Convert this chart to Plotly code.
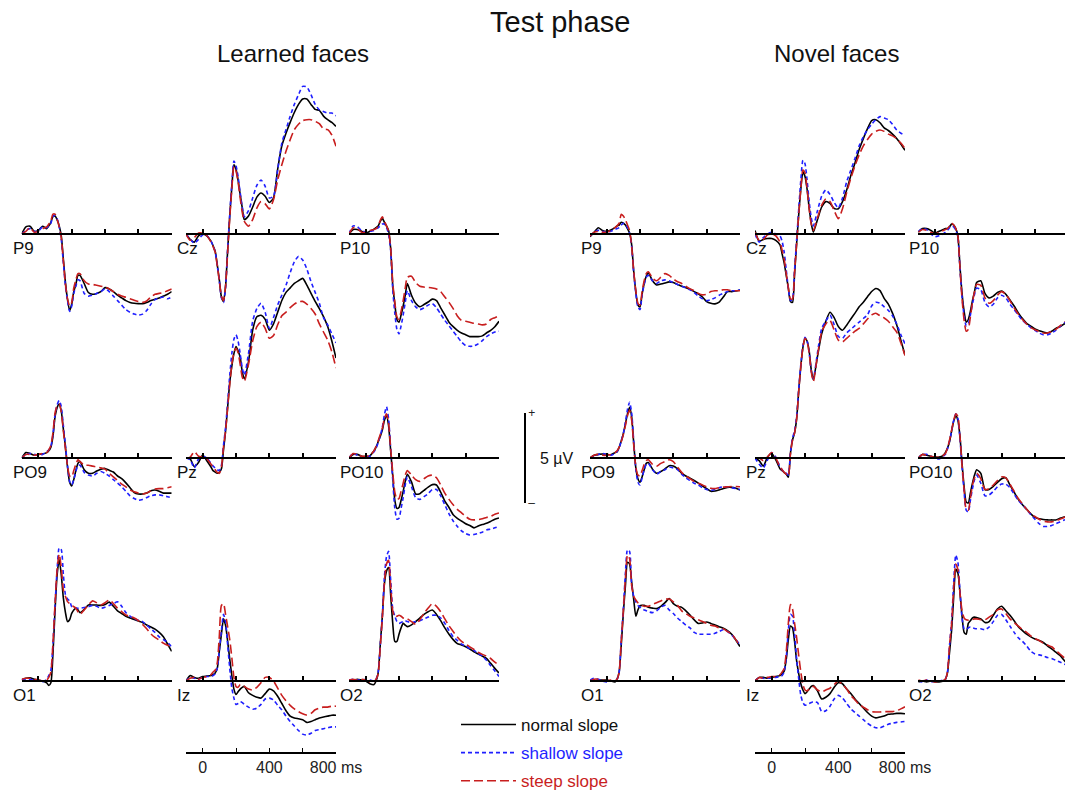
import plotly.graph_objects as go

FIG_W, FIG_H = 1065, 800
FONT = "Liberation Sans, Arial, sans-serif"

# Sample times (ms); denser around the early components
TIME_MS = [-100, -75, -50, -25, 0, 25,
           50, 62.5, 75, 87.5, 100, 112.5, 125, 137.5, 150, 162.5, 175, 187.5,
           200, 212.5, 225, 237.5, 250,
           275, 300, 325, 350, 375, 400, 425, 450, 475, 500, 525, 550, 575,
           600, 625, 650, 675, 700, 725, 750, 775, 800]
PANEL_TICKS_MS = [0, 200, 400, 600, 800]
TIMEBAR_TICKS_MS = [0, 200, 400, 600, 800]
TIMEBAR_LABELS = ["0", "", "400", "", "800 ms"]

GROUPS = ["Learned faces", "Novel faces"]
CONDITIONS = ["normal slope", "shallow slope", "steep slope"]
ELECTRODE_GRID = [["P9", "Cz", "P10"],
                  ["PO9", "Pz", "PO10"],
                  ["O1", "Iz", "O2"]]

# ---------------- grand-average ERPs (µV), learned faces ----------------
learned_P9_normal = [0, 0.4, 0.43, 0.15, 0.2, 0.43, 0.3, 0.45, 0.65, 0.98, 1.0, 0.8, 0.45, -0.1, -1.4, -2.7, -3.65, -4.25, -3.9, -3.2, -2.8, -2.3, -2.3, -2.75, -3.25, -3.35, -3.3, -3.2, -2.98, -3.05, -3.2, -3.4, -3.55, -3.7, -3.8, -3.85, -3.87, -3.87, -3.8, -3.7, -3.62, -3.55, -3.45, -3.35, -3.2]
learned_P9_shallow = [0, 0.2, 0.3, 0.15, 0.15, 0.4, 0.35, 0.45, 0.6, 0.95, 1.05, 0.85, 0.4, -0.3, -1.6, -2.9, -3.7, -4.3, -4.0, -3.3, -2.9, -2.55, -2.6, -3.3, -3.45, -3.4, -3.3, -3.2, -3.05, -3.2, -3.45, -3.7, -3.95, -4.2, -4.35, -4.45, -4.5, -4.45, -4.25, -3.9, -3.65, -3.55, -3.5, -3.6, -3.5]
learned_P9_steep = [0, 0.15, 0.35, 0.1, 0.15, 0.3, 0.4, 0.55, 0.75, 1.1, 1.1, 0.8, 0.4, -0.2, -1.5, -2.8, -3.6, -4.0, -3.8, -3.0, -2.55, -2.2, -2.2, -2.6, -2.78, -2.8, -2.85, -2.9, -2.95, -3.05, -3.2, -3.35, -3.45, -3.52, -3.6, -3.68, -3.75, -3.8, -3.72, -3.5, -3.35, -3.3, -3.25, -3.15, -3.05]

learned_Cz_normal = [0, -0.3, -0.45, -0.1, 0.0, -0.1, -0.4, -0.65, -0.95, -1.7, -2.55, -3.5, -3.75, -2.9, -0.9, 1.0, 2.6, 3.85, 3.6, 3.0, 2.2, 1.45, 0.8, 1.0, 1.5, 2.05, 2.28, 2.1, 1.75, 2.0, 3.6, 4.9, 5.6, 6.2, 6.75, 7.2, 7.5, 7.5, 7.2, 6.92, 6.87, 6.55, 6.35, 6.2, 5.98]
learned_Cz_shallow = [0, -0.3, -0.5, -0.3, -0.05, -0.1, -0.4, -0.65, -1.0, -1.75, -2.6, -3.55, -3.8, -2.95, -0.8, 1.1, 2.8, 4.05, 3.8, 3.2, 2.3, 1.5, 0.95, 1.3, 2.0, 2.7, 3.0, 2.65, 2.0, 2.1, 3.57, 5.05, 5.8, 6.54, 7.2, 7.74, 8.2, 8.17, 7.74, 7.2, 6.9, 6.8, 6.72, 6.72, 6.57]
learned_Cz_steep = [0, -0.35, -0.2, 0.05, 0.05, -0.1, -0.45, -0.7, -1.0, -1.75, -2.6, -3.45, -3.7, -2.9, -1.0, 0.9, 2.5, 3.75, 3.5, 2.9, 2.0, 1.2, 0.7, 0.43, 0.8, 1.44, 1.8, 1.68, 1.39, 1.9, 3.0, 3.85, 4.6, 5.24, 5.8, 6.1, 6.3, 6.35, 6.35, 6.26, 6.13, 5.83, 5.8, 5.5, 4.87]

learned_P10_normal = [0, 0.25, 0.25, 0.15, 0.05, 0.15, 0.27, 0.35, 0.45, 0.7, 0.87, 0.65, 0.45, 0.2, -0.8, -2.85, -3.9, -4.75, -4.9, -4.5, -4.0, -3.4, -2.75, -3.4, -3.85, -4.04, -3.92, -3.78, -3.62, -3.7, -4.1, -4.5, -4.9, -5.15, -5.35, -5.5, -5.6, -5.7, -5.7, -5.7, -5.66, -5.5, -5.35, -5.15, -4.85]
learned_P10_shallow = [0, 0.45, 0.4, 0.2, 0.1, 0.15, 0.2, 0.3, 0.35, 0.45, 0.55, 0.55, 0.35, 0.0, -0.9, -3.1, -4.4, -5.3, -5.55, -5.1, -4.5, -3.8, -3.15, -3.7, -4.05, -4.2, -4.1, -3.95, -3.87, -4.1, -4.45, -4.8, -5.1, -5.4, -5.7, -6.0, -6.2, -6.24, -6.22, -6.1, -5.92, -5.7, -5.55, -5.45, -5.4]
learned_P10_steep = [0, 0.35, 0.3, 0.1, 0.1, 0.2, 0.25, 0.3, 0.45, 0.75, 0.95, 0.7, 0.45, 0.15, -0.8, -2.7, -3.8, -4.6, -4.75, -4.3, -3.7, -3.0, -2.4, -2.35, -2.7, -2.9, -2.95, -2.97, -3.0, -3.05, -3.2, -3.5, -3.8, -4.15, -4.55, -4.8, -4.85, -4.9, -4.96, -5.0, -5.05, -5.0, -4.75, -4.65, -4.55]

learned_PO9_normal = [0, 0.3, 0.25, 0.15, 0.2, 0.22, 0.3, 0.4, 0.6, 1.2, 2.28, 2.8, 3.0, 2.6, 1.6, 0.6, -0.5, -1.35, -1.55, -1.2, -0.7, -0.3, -0.2, -0.65, -0.85, -0.85, -0.72, -0.62, -0.58, -0.68, -0.78, -1.0, -1.15, -1.38, -1.65, -1.92, -2.0, -2.0, -1.95, -1.82, -1.78, -1.85, -1.95, -1.95, -1.95]
learned_PO9_shallow = [0, 0.2, 0.25, 0.2, 0.15, 0.2, 0.35, 0.45, 0.65, 1.3, 2.4, 2.95, 3.2, 2.85, 1.8, 0.7, -0.45, -1.3, -1.5, -1.2, -0.75, -0.4, -0.4, -0.8, -0.95, -1.0, -0.85, -0.75, -0.85, -1.0, -1.2, -1.4, -1.6, -1.85, -2.1, -2.25, -2.35, -2.3, -2.2, -2.1, -2.05, -2.05, -2.1, -2.15, -2.2]
learned_PO9_steep = [0, 0.2, 0.2, 0.15, 0.2, 0.25, 0.3, 0.45, 0.7, 1.4, 2.5, 2.9, 3.0, 2.55, 1.5, 0.5, -0.45, -1.0, -1.05, -0.7, -0.35, -0.1, -0.2, -0.4, -0.4, -0.45, -0.5, -0.55, -0.62, -0.85, -1.05, -1.25, -1.45, -1.6, -1.78, -1.88, -1.95, -2.0, -1.95, -1.82, -1.72, -1.7, -1.7, -1.65, -1.6]

learned_Pz_normal = [0, -0.05, -0.48, -0.25, 0.17, -0.15, -0.5, -0.7, -0.78, -0.85, -0.8, -0.6, 0.45, 1.5, 2.85, 4.2, 5.1, 5.8, 6.19, 5.95, 5.6, 4.8, 4.4, 5.35, 7.1, 7.85, 7.93, 7.7, 7.1, 7.45, 8.1, 8.75, 9.2, 9.45, 9.7, 9.85, 9.98, 9.6, 9.15, 8.7, 8.3, 7.85, 7.3, 6.5, 5.55]
learned_Pz_shallow = [0, -0.1, -0.55, -0.05, 0.1, 0.0, -0.3, -0.45, -0.55, -0.65, -0.7, -0.4, 0.7, 1.7, 3.1, 4.6, 5.8, 6.6, 6.85, 6.5, 5.8, 5.0, 4.6, 5.8, 7.6, 8.3, 8.6, 8.1, 7.2, 7.8, 8.5, 9.05, 9.6, 10.3, 10.9, 11.2, 11.0, 10.5, 9.8, 9.2, 8.6, 7.8, 7.4, 6.9, 6.4]
learned_Pz_steep = [0, 0.05, 0.35, 0.1, 0.05, -0.05, -0.35, -0.5, -0.65, -0.8, -0.85, -0.5, 0.6, 1.5, 2.8, 4.1, 5.2, 5.85, 6.1, 5.85, 5.2, 4.5, 4.25, 5.2, 6.5, 7.3, 7.55, 7.2, 6.65, 6.8, 7.4, 7.9, 8.1, 8.35, 8.55, 8.68, 8.7, 8.55, 8.3, 8.0, 7.45, 7.0, 6.55, 5.9, 5.0]

learned_PO10_normal = [0, 0.2, 0.2, 0.1, 0.08, 0.12, 0.4, 0.6, 0.9, 1.2, 1.55, 2.1, 2.35, 1.8, 0.4, -1.0, -2.35, -2.8, -2.75, -2.35, -1.85, -1.3, -0.9, -1.33, -2.0, -1.98, -1.8, -1.62, -1.48, -1.5, -1.9, -2.4, -2.75, -3.15, -3.35, -3.5, -3.65, -3.75, -3.88, -3.78, -3.7, -3.63, -3.52, -3.4, -3.33]
learned_PO10_shallow = [0, 0.25, 0.15, 0.05, 0.05, 0.1, 0.35, 0.55, 0.85, 1.25, 1.7, 2.4, 2.85, 2.2, 0.5, -1.2, -2.8, -3.4, -3.35, -2.8, -2.2, -1.5, -1.05, -1.6, -2.2, -2.3, -2.15, -1.98, -1.75, -1.75, -2.1, -2.6, -3.1, -3.5, -3.8, -4.05, -4.2, -4.28, -4.25, -4.19, -4.12, -4.0, -3.95, -3.88, -3.81]
learned_PO10_steep = [0, 0.25, 0.2, 0.1, 0.1, 0.15, 0.4, 0.65, 0.95, 1.3, 1.65, 2.2, 2.45, 1.95, 0.5, -0.8, -1.9, -2.3, -2.25, -1.85, -1.4, -0.95, -0.7, -0.95, -1.2, -1.3, -1.15, -1.0, -0.95, -1.1, -1.5, -1.95, -2.3, -2.6, -2.85, -3.05, -3.25, -3.4, -3.44, -3.42, -3.38, -3.3, -3.25, -3.12, -3.05]

learned_O1_normal = [0.05, 0.15, 0.18, 0.1, 0.05, 0.0, -0.1, -0.25, -0.1, 1.5, 3.9, 5.9, 6.75, 5.9, 4.6, 3.8, 3.3, 3.4, 3.76, 3.95, 4.05, 3.95, 3.8, 3.98, 4.22, 4.22, 4.22, 4.2, 4.25, 4.38, 4.15, 3.9, 3.75, 3.6, 3.5, 3.42, 3.33, 3.25, 3.11, 3.0, 2.88, 2.7, 2.46, 2.05, 1.65]
learned_O1_shallow = [0.1, 0.1, 0.1, 0.05, 0.0, -0.05, 0.1, 0.3, 0.6, 2.0, 4.2, 6.2, 7.4, 7.3, 5.9, 4.8, 4.55, 4.45, 4.13, 4.1, 4.05, 4.04, 4.04, 4.08, 4.13, 4.2, 4.15, 4.04, 4.1, 4.2, 4.3, 4.4, 4.15, 3.8, 3.6, 3.45, 3.38, 3.3, 3.1, 2.9, 2.7, 2.45, 2.3, 2.15, 1.9]
learned_O1_steep = [0.1, 0.15, 0.15, 0.1, 0.05, 0.0, 0.05, 0.2, 0.5, 2.1, 4.3, 6.2, 7.05, 6.3, 5.06, 4.7, 4.41, 4.3, 4.22, 4.13, 4.04, 3.85, 3.7, 3.95, 4.22, 4.45, 4.35, 4.22, 4.35, 4.5, 4.3, 4.04, 3.85, 3.67, 3.58, 3.5, 3.35, 3.15, 2.9, 2.62, 2.42, 2.28, 2.1, 1.98, 1.9]

learned_Iz_normal = [0, 0.3, 0.2, 0.15, 0.25, 0.27, 0.3, 0.35, 0.45, 0.7, 1.67, 2.6, 3.45, 3.1, 2.2, 1.2, 0.3, -0.45, -0.75, -0.6, -0.45, -0.35, -0.3, -0.65, -0.8, -0.9, -0.95, -0.7, -0.45, -0.55, -0.85, -1.25, -1.65, -1.95, -2.05, -2.1, -2.15, -2.3, -2.25, -2.15, -2.05, -2.0, -1.95, -1.9, -1.9]
learned_Iz_shallow = [0, 0.2, 0.15, 0.1, 0.2, 0.25, 0.25, 0.3, 0.4, 0.7, 1.7, 2.8, 3.7, 3.3, 2.0, 0.7, -0.4, -0.95, -1.3, -1.25, -1.15, -1.2, -1.3, -1.45, -1.57, -1.5, -1.3, -1.0, -0.95, -1.05, -1.35, -1.6, -1.95, -2.25, -2.5, -2.75, -2.95, -3.0, -2.9, -2.75, -2.7, -2.65, -2.6, -2.55, -2.55]
learned_Iz_steep = [0, 0.15, 0.2, 0.1, 0.2, 0.25, 0.35, 0.5, 0.6, 1.0, 2.5, 4.2, 4.3, 3.7, 3.0, 2.3, 1.3, 0.2, -0.3, -0.35, -0.2, -0.2, -0.3, -0.45, -0.5, -0.35, -0.1, 0.2, 0.2, 0.0, -0.4, -0.8, -1.1, -1.35, -1.55, -1.7, -1.82, -1.89, -1.8, -1.6, -1.5, -1.45, -1.45, -1.4, -1.4]

learned_O2_normal = [0.05, 0.05, 0.1, 0.05, 0.0, -0.15, -0.2, 0.0, 0.45, 2.0, 3.6, 5.4, 6.1, 6.3, 4.8, 3.2, 2.2, 2.2, 2.6, 2.95, 3.2, 3.1, 3.02, 3.12, 3.3, 3.5, 3.7, 3.85, 3.94, 3.7, 3.35, 2.95, 2.6, 2.3, 2.08, 2.0, 1.9, 1.78, 1.62, 1.5, 1.38, 1.26, 0.98, 0.7, 0.45]
learned_O2_shallow = [0.05, 0.1, 0.05, 0.05, 0.1, 0.05, 0.0, 0.1, 0.5, 2.0, 3.6, 5.8, 6.9, 7.2, 5.6, 4.0, 3.6, 3.3, 3.2, 3.25, 3.3, 3.35, 3.3, 3.25, 3.3, 3.35, 3.45, 3.55, 3.65, 3.65, 3.5, 3.2, 2.8, 2.46, 2.25, 2.05, 1.95, 1.8, 1.7, 1.52, 1.38, 1.15, 0.85, 0.55, 0.25]
learned_O2_steep = [0.05, 0.1, 0.05, 0.1, 0.05, -0.05, -0.05, 0.1, 0.4, 1.9, 3.5, 5.5, 6.5, 6.7, 5.3, 3.9, 3.55, 3.6, 3.65, 3.6, 3.5, 3.45, 3.45, 3.3, 3.15, 3.4, 3.75, 4.05, 4.3, 4.15, 3.85, 3.45, 3.07, 2.75, 2.45, 2.2, 2.05, 1.9, 1.75, 1.6, 1.48, 1.38, 1.25, 1.05, 0.89]

# ---------------- grand-average ERPs (µV), novel faces ----------------
novel_P9_normal = [-0.15, 0.1, 0.35, 0.2, 0.15, 0.22, 0.35, 0.45, 0.5, 0.65, 0.6, 0.5, 0.3, 0.05, -0.6, -2.1, -3.2, -3.95, -4.05, -3.35, -2.75, -2.35, -2.15, -2.6, -2.83, -2.78, -2.72, -2.66, -2.7, -2.8, -2.9, -2.98, -3.07, -3.2, -3.33, -3.5, -3.76, -3.85, -3.88, -3.78, -3.5, -3.2, -3.2, -3.17, -3.11]
novel_P9_shallow = [-0.1, 0.1, 0.2, 0.15, 0.1, 0.15, 0.25, 0.3, 0.35, 0.5, 0.6, 0.55, 0.35, 0.05, -0.7, -2.2, -3.3, -4.05, -4.2, -3.4, -2.8, -2.4, -2.3, -2.6, -2.75, -2.6, -2.55, -2.6, -2.7, -2.8, -2.9, -3.0, -3.1, -3.25, -3.45, -3.6, -3.7, -3.65, -3.55, -3.4, -3.3, -3.2, -3.15, -3.15, -3.1]
novel_P9_steep = [-0.1, 0.1, 0.15, 0.1, 0.1, 0.2, 0.35, 0.45, 0.6, 1.1, 1.0, 0.8, 0.5, 0.2, -0.7, -2.1, -3.15, -3.85, -3.95, -3.2, -2.6, -2.2, -2.1, -2.45, -2.6, -2.4, -2.2, -2.3, -2.5, -2.65, -2.75, -2.9, -3.05, -3.15, -3.3, -3.38, -3.35, -3.2, -3.15, -3.15, -3.1, -3.1, -3.15, -3.15, -3.15]

novel_Cz_normal = [0.2, -0.4, -0.3, -0.25, -0.25, -0.35, -0.6, -1.1, -1.6, -2.3, -3.0, -3.75, -3.8, -2.2, -0.5, 1.1, 2.5, 3.45, 3.2, 2.5, 1.45, 0.6, 0.1, 0.8, 1.5, 1.8, 1.7, 1.42, 1.4, 1.8, 2.44, 3.25, 3.95, 4.7, 5.3, 5.85, 6.3, 6.35, 6.18, 5.9, 5.75, 5.55, 5.31, 5.0, 4.65]
novel_Cz_shallow = [0.0, -0.45, -0.2, 0.0, 0.1, 0.0, -0.1, -0.4, -1.0, -2.0, -3.0, -3.7, -3.6, -2.0, -0.3, 1.4, 3.0, 4.1, 3.9, 3.0, 1.8, 0.9, 0.45, 1.3, 2.1, 2.45, 2.2, 1.75, 1.45, 2.0, 2.9, 3.55, 4.2, 4.9, 5.4, 5.8, 6.1, 6.35, 6.52, 6.45, 6.35, 6.1, 5.78, 5.6, 5.5]
novel_Cz_steep = [0.1, -0.35, -0.3, -0.05, 0.0, -0.1, -0.45, -0.9, -1.4, -2.2, -3.0, -3.6, -3.6, -2.1, -0.5, 1.1, 2.5, 3.55, 3.4, 2.5, 1.4, 0.55, 0.2, 0.9, 1.6, 1.95, 1.8, 1.3, 0.85, 1.4, 2.3, 3.1, 3.8, 4.4, 4.9, 5.25, 5.55, 5.7, 5.78, 5.7, 5.55, 5.45, 5.3, 5.05, 4.75]

novel_P10_normal = [0.1, 0.3, 0.3, 0.2, 0.05, 0.15, 0.25, 0.3, 0.3, 0.4, 0.55, 0.5, 0.3, -0.1, -1.8, -3.3, -4.3, -4.9, -4.75, -4.3, -3.7, -3.2, -2.7, -2.6, -3.3, -3.55, -3.45, -3.25, -3.17, -3.35, -3.67, -4.0, -4.38, -4.7, -4.96, -5.12, -5.28, -5.38, -5.45, -5.5, -5.4, -5.25, -5.15, -5.0, -4.85]
novel_P10_shallow = [0.15, 0.3, 0.25, 0.0, -0.15, -0.1, 0.0, 0.1, 0.2, 0.35, 0.45, 0.4, 0.2, -0.15, -1.9, -3.5, -4.55, -5.1, -5.0, -4.5, -3.9, -3.35, -3.0, -3.1, -3.8, -4.05, -3.9, -3.55, -3.4, -3.55, -3.9, -4.2, -4.5, -4.8, -5.0, -5.2, -5.35, -5.5, -5.6, -5.6, -5.5, -5.35, -5.15, -4.95, -4.8]
novel_P10_steep = [0.1, 0.25, 0.2, 0.1, 0.0, 0.1, 0.2, 0.25, 0.3, 0.45, 0.6, 0.5, 0.3, -0.1, -1.9, -3.6, -4.8, -5.4, -5.3, -4.6, -3.8, -3.2, -2.8, -2.85, -3.55, -3.85, -3.7, -3.4, -3.2, -3.35, -3.7, -4.1, -4.45, -4.75, -5.0, -5.2, -5.32, -5.42, -5.5, -5.5, -5.42, -5.3, -5.1, -4.92, -4.75]

novel_PO9_normal = [0.0, 0.15, 0.2, 0.22, 0.2, 0.18, 0.3, 0.35, 0.6, 0.95, 1.35, 1.9, 2.45, 2.82, 2.29, 0.8, -0.55, -1.15, -1.35, -1.05, -0.65, -0.3, -0.25, -0.62, -0.85, -0.75, -0.6, -0.43, -0.45, -0.6, -0.85, -1.0, -1.12, -1.25, -1.4, -1.56, -1.7, -1.85, -1.83, -1.77, -1.7, -1.63, -1.63, -1.68, -1.78]
novel_PO9_shallow = [0.0, 0.1, 0.2, 0.25, 0.2, 0.15, 0.25, 0.35, 0.55, 0.95, 1.35, 2.0, 2.7, 3.1, 2.5, 0.9, -0.6, -1.35, -1.5, -1.1, -0.65, -0.35, -0.3, -0.65, -0.9, -0.75, -0.65, -0.5, -0.55, -0.65, -0.9, -1.1, -1.25, -1.4, -1.5, -1.65, -1.75, -1.8, -1.75, -1.65, -1.6, -1.6, -1.65, -1.7, -1.75]
novel_PO9_steep = [0.0, 0.15, 0.2, 0.15, 0.15, 0.2, 0.3, 0.4, 0.6, 0.9, 1.3, 1.8, 2.35, 2.65, 2.1, 0.7, -0.5, -0.95, -1.0, -0.7, -0.35, -0.15, -0.1, -0.35, -0.45, -0.3, -0.2, -0.1, -0.2, -0.5, -0.8, -1.0, -1.15, -1.3, -1.4, -1.5, -1.6, -1.68, -1.7, -1.65, -1.62, -1.6, -1.58, -1.58, -1.6]

novel_Pz_normal = [0.0, -0.15, -0.45, 0.05, 0.25, -0.1, -0.6, -0.7, -0.8, -0.9, -1.07, 0.25, 1.0, 1.4, 2.2, 3.75, 5.1, 6.15, 6.65, 6.5, 5.95, 4.9, 4.35, 5.65, 6.9, 7.6, 8.1, 7.8, 7.3, 7.1, 7.38, 7.72, 8.05, 8.4, 8.65, 8.96, 9.25, 9.42, 9.3, 8.87, 8.55, 8.05, 7.4, 6.55, 5.72]
novel_Pz_shallow = [0.0, -0.35, -0.55, -0.1, 0.3, 0.05, -0.5, -0.65, -0.8, -0.85, -0.95, 0.3, 1.1, 1.5, 2.3, 3.85, 5.2, 6.2, 6.7, 6.5, 5.85, 4.85, 4.4, 5.85, 7.2, 7.6, 7.94, 7.4, 6.75, 6.65, 6.95, 7.15, 7.35, 7.55, 7.75, 7.95, 8.45, 8.65, 8.6, 8.4, 8.2, 7.9, 7.45, 6.85, 6.35]
novel_Pz_steep = [0.0, 0.0, -0.15, 0.05, 0.3, 0.0, -0.5, -0.65, -0.8, -0.9, -1.0, 0.2, 1.0, 1.4, 2.2, 3.75, 5.1, 6.15, 6.65, 6.45, 5.85, 4.8, 4.25, 5.7, 7.0, 7.45, 7.65, 7.1, 6.55, 6.45, 6.65, 6.85, 7.05, 7.2, 7.45, 7.72, 7.95, 8.04, 7.9, 7.78, 7.6, 7.3, 7.0, 6.4, 5.7]

novel_PO10_normal = [0.0, 0.2, 0.15, 0.1, 0.05, 0.05, 0.15, 0.3, 0.55, 0.9, 1.5, 2.05, 2.35, 2.1, 1.2, -0.3, -1.6, -2.45, -2.5, -1.95, -1.4, -0.95, -0.65, -0.85, -1.75, -1.75, -1.58, -1.35, -1.15, -1.1, -1.5, -1.9, -2.3, -2.6, -2.85, -3.1, -3.3, -3.38, -3.42, -3.44, -3.44, -3.44, -3.35, -3.28, -3.22]
novel_PO10_shallow = [0.0, 0.2, 0.2, 0.1, 0.0, -0.05, 0.1, 0.2, 0.5, 0.95, 1.5, 2.1, 2.45, 2.2, 1.1, -0.5, -1.9, -2.9, -3.0, -2.35, -1.7, -1.2, -0.95, -1.4, -2.1, -2.05, -1.85, -1.6, -1.45, -1.45, -1.65, -2.0, -2.35, -2.6, -2.85, -3.15, -3.4, -3.65, -3.8, -3.8, -3.75, -3.65, -3.55, -3.45, -3.4]
novel_PO10_steep = [0.0, 0.2, 0.15, 0.1, 0.05, 0.05, 0.15, 0.25, 0.55, 1.0, 1.55, 2.1, 2.45, 2.3, 1.2, -0.4, -1.8, -2.85, -2.9, -2.25, -1.5, -1.1, -0.85, -1.15, -1.75, -1.7, -1.5, -1.25, -1.05, -1.1, -1.45, -1.85, -2.25, -2.55, -2.85, -3.1, -3.25, -3.4, -3.5, -3.55, -3.55, -3.5, -3.4, -3.3, -3.25]

novel_O1_normal = [0.0, 0.0, 0.05, 0.05, 0.05, 0.0, -0.05, 0.1, 0.5, 2.0, 3.76, 5.3, 6.6, 6.5, 5.5, 4.5, 3.6, 3.95, 4.18, 4.2, 4.2, 4.15, 4.1, 4.05, 4.02, 4.15, 4.35, 4.58, 4.3, 4.15, 4.09, 3.9, 3.67, 3.4, 3.2, 3.22, 3.28, 3.2, 3.11, 3.02, 2.93, 2.8, 2.6, 2.28, 1.91]
novel_O1_shallow = [0.05, 0.15, 0.1, 0.0, -0.05, 0.0, 0.0, 0.1, 0.5, 2.3, 4.0, 6.0, 7.3, 7.2, 5.3, 4.7, 4.4, 4.2, 4.1, 4.0, 3.95, 3.9, 3.85, 3.8, 3.9, 4.1, 4.2, 3.95, 3.75, 3.5, 3.3, 3.1, 2.95, 2.7, 2.6, 2.6, 2.6, 2.6, 2.65, 2.75, 2.85, 2.75, 2.55, 2.3, 2.0]
novel_O1_steep = [0.0, 0.1, 0.1, 0.05, 0.0, 0.05, 0.0, 0.1, 0.5, 2.2, 3.9, 5.7, 7.0, 6.8, 5.3, 4.7, 4.5, 4.35, 4.25, 4.2, 4.15, 4.15, 4.15, 4.25, 4.35, 4.45, 4.55, 4.55, 4.4, 4.2, 3.9, 3.75, 3.6, 3.5, 3.4, 3.3, 3.2, 3.1, 3.05, 2.95, 2.9, 2.75, 2.6, 2.3, 1.95]

novel_Iz_normal = [0.0, 0.2, 0.2, 0.15, 0.2, 0.25, 0.3, 0.4, 0.55, 1.2, 2.3, 3.05, 2.95, 2.2, 1.1, 0.4, -0.15, -0.5, -0.7, -0.6, -0.45, -0.3, -0.25, -0.55, -1.0, -0.9, -0.7, -0.35, -0.1, -0.15, -0.45, -0.7, -1.0, -1.25, -1.5, -1.75, -1.95, -2.05, -2.0, -1.95, -1.85, -1.83, -1.8, -1.8, -1.82]
novel_Iz_shallow = [0.0, 0.2, 0.15, 0.15, 0.2, 0.2, 0.25, 0.3, 0.5, 1.3, 2.8, 3.7, 3.6, 2.6, 1.2, 0.1, -0.8, -1.2, -1.35, -1.3, -1.25, -1.2, -1.15, -1.2, -1.7, -1.65, -1.4, -1.0, -0.8, -0.95, -1.25, -1.55, -1.75, -1.95, -2.15, -2.35, -2.5, -2.6, -2.6, -2.5, -2.4, -2.35, -2.3, -2.28, -2.25]
novel_Iz_steep = [0.0, 0.2, 0.15, 0.2, 0.25, 0.25, 0.35, 0.5, 0.7, 1.6, 3.2, 4.25, 4.0, 3.2, 2.4, 1.4, 0.5, -0.2, -0.5, -0.55, -0.45, -0.35, -0.3, -0.5, -0.6, -0.5, -0.4, -0.2, 0.0, -0.2, -0.45, -0.8, -1.05, -1.3, -1.45, -1.6, -1.7, -1.72, -1.72, -1.7, -1.7, -1.7, -1.65, -1.55, -1.43]

novel_O2_normal = [-0.05, 0.0, -0.05, 0.0, -0.05, -0.05, 0.0, 0.1, 0.45, 1.6, 2.83, 4.7, 6.2, 6.0, 4.9, 3.6, 2.7, 2.6, 3.2, 3.35, 3.5, 3.55, 3.52, 3.45, 3.25, 3.3, 3.65, 4.0, 4.15, 3.9, 3.65, 3.35, 3.02, 2.8, 2.6, 2.45, 2.33, 2.25, 2.14, 1.95, 1.78, 1.6, 1.42, 1.15, 0.9]
novel_O2_shallow = [0.0, -0.05, 0.05, -0.05, 0.0, 0.0, 0.05, 0.1, 0.5, 2.0, 3.3, 5.5, 7.0, 6.6, 5.0, 3.5, 2.9, 2.85, 2.95, 3.0, 2.95, 2.92, 2.9, 2.9, 2.85, 3.0, 3.3, 3.65, 3.7, 3.4, 3.05, 2.7, 2.4, 2.2, 1.95, 1.65, 1.5, 1.45, 1.4, 1.3, 1.25, 1.15, 1.05, 0.95, 0.8]
novel_O2_steep = [0.05, 0.0, 0.05, 0.0, -0.05, 0.0, 0.05, 0.1, 0.5, 2.0, 3.2, 5.2, 6.5, 6.2, 4.9, 3.9, 3.5, 3.4, 3.38, 3.4, 3.42, 3.45, 3.45, 3.4, 3.4, 3.55, 3.7, 3.95, 4.0, 3.75, 3.45, 3.25, 3.05, 2.85, 2.7, 2.5, 2.35, 2.25, 2.1, 2.0, 1.9, 1.7, 1.5, 1.3, 1.1]

# Lookup table: (group, electrode) -> waveforms in CONDITIONS order
WAVES = {}
for _grp, _prefix in (("Learned faces", "learned"), ("Novel faces", "novel")):
    for _row in ELECTRODE_GRID:
        for _el in _row:
            WAVES[(_grp, _el)] = [globals()[f"{_prefix}_{_el}_{c.split()[0]}"] for c in CONDITIONS]
for _key, _series in WAVES.items():
    for _s in _series:
        assert len(_s) == len(TIME_MS), _key

# ---------------- styling / geometry ----------------
LINE_COLOR = {"normal slope": "#000000", "shallow slope": "#1f1fff", "steep slope": "#c81e1e"}
LINE_DASH = {"normal slope": "solid", "shallow slope": "4px,3px", "steep slope": "9px,4px"}
LABEL_COLOR = {"normal slope": "#111111", "shallow slope": "#1f1fff", "steep slope": "#c81e1e"}
DRAW_ORDER = ["normal slope", "shallow slope", "steep slope"]

PANEL_LEFT_PX = {"Learned faces": [21.7, 186.0, 349.0], "Novel faces": [590.0, 755.0, 918.3]}
ROW_BASELINE_PX = [234, 458, 681]
PANEL_W_PX = 150.0
T_START, T_END = -100, 800
PX_PER_MS = PANEL_W_PX / (T_END - T_START)
PX_PER_UV = 18.0
TIMEBAR_Y_PX = 753
SCALEBAR_X_PX, SCALEBAR_TOP_PX, SCALEBAR_BOT_PX = 525, 413, 503

fig = go.Figure()
layout_axes = {}
annotations = []


def ax_names(k):
    suffix = "" if k == 1 else str(k)
    return "xaxis" + suffix, "yaxis" + suffix, "x" + suffix, "y" + suffix


k = 0
for grp in GROUPS:
    for r, row in enumerate(ELECTRODE_GRID):
        base = ROW_BASELINE_PX[r]
        for c, el in enumerate(row):
            k += 1
            xa, ya, xr, yr = ax_names(k)
            left = PANEL_LEFT_PX[grp][c]
            right = min(left + PANEL_W_PX, FIG_W)
            layout_axes[xa] = dict(
                domain=[left / FIG_W, right / FIG_W],
                range=[T_START, T_START + (right - left) / PX_PER_MS],
                anchor="free", position=1 - base / FIG_H, side="bottom",
                showline=True, linecolor="black", linewidth=2,
                ticks="inside", ticklen=4, tickwidth=1.5, tickcolor="black",
                tickmode="array", tickvals=PANEL_TICKS_MS, showticklabels=False,
                showgrid=False, zeroline=False, fixedrange=True)
            layout_axes[ya] = dict(
                domain=[0, 1], anchor=xr,
                range=[(base - FIG_H) / PX_PER_UV, base / PX_PER_UV],
                visible=False, showgrid=False, zeroline=False, fixedrange=True)
            waves = dict(zip(CONDITIONS, WAVES[(grp, el)]))
            for cond in DRAW_ORDER:
                fig.add_trace(go.Scatter(
                    x=TIME_MS, y=waves[cond], xaxis=xr, yaxis=yr, mode="lines",
                    line=dict(color=LINE_COLOR[cond], width=1.6, dash=LINE_DASH[cond],
                              shape="spline", smoothing=0.6),
                    name=f"<span style='color:{LABEL_COLOR[cond]}'>{cond}</span>",
                    legendgroup=cond, legendrank=CONDITIONS.index(cond) + 1,
                    showlegend=(k == 1), hoverinfo="skip"))
            annotations.append(dict(
                text=el, x=(left - 11) / FIG_W, y=1 - (base + 14) / FIG_H,
                xref="paper", yref="paper", xanchor="left", yanchor="middle",
                showarrow=False, font=dict(family=FONT, size=17, color="#111")))

# time calibration bars under the Iz panels
for grp in GROUPS:
    k += 1
    xa, ya, xr, yr = ax_names(k)
    left = PANEL_LEFT_PX[grp][1]
    layout_axes[xa] = dict(
        domain=[left / FIG_W, (left + PANEL_W_PX) / FIG_W], range=[T_START, T_END],
        anchor="free", position=1 - TIMEBAR_Y_PX / FIG_H, side="bottom",
        showline=True, linecolor="black", linewidth=1.5,
        ticks="inside", ticklen=4, tickwidth=1.2, tickcolor="black",
        tickmode="array", tickvals=TIMEBAR_TICKS_MS, ticktext=TIMEBAR_LABELS,
        tickfont=dict(family=FONT, size=16, color="#222"),
        showgrid=False, zeroline=False, fixedrange=True)
    layout_axes[ya] = dict(domain=[0, 0.01], anchor=xr, visible=False, fixedrange=True)
    fig.add_trace(go.Scatter(x=[], y=[], xaxis=xr, yaxis=yr, showlegend=False, hoverinfo="skip"))

# 5 µV amplitude calibration bar
k += 1
xa, ya, xr, yr = ax_names(k)
SCALE_UV = 5.0
layout_axes[xa] = dict(domain=[SCALEBAR_X_PX / FIG_W, (SCALEBAR_X_PX + 2) / FIG_W],
                       visible=False, fixedrange=True)
layout_axes[ya] = dict(
    domain=[1 - SCALEBAR_BOT_PX / FIG_H, 1 - SCALEBAR_TOP_PX / FIG_H],
    range=[-SCALE_UV / 2, SCALE_UV / 2], anchor="free", position=SCALEBAR_X_PX / FIG_W,
    side="right", showline=True, linecolor="black", linewidth=1.5, ticks="",
    tickmode="array", tickvals=[SCALE_UV / 2, -SCALE_UV / 2], ticktext=["+", "–"],
    tickfont=dict(family=FONT, size=12, color="#222"),
    showgrid=False, zeroline=False, fixedrange=True)
fig.add_trace(go.Scatter(x=[], y=[], xaxis=xr, yaxis=yr, showlegend=False, hoverinfo="skip"))
annotations.append(dict(text="5 µV", x=538 / FIG_W, y=1 - 458 / FIG_H, xref="paper", yref="paper",
                        xanchor="left", yanchor="middle", showarrow=False,
                        font=dict(family=FONT, size=16, color="#111")))

# titles
annotations.append(dict(text="Test phase", x=560 / FIG_W, y=1 - 22 / FIG_H, xref="paper", yref="paper",
                        xanchor="center", yanchor="middle", showarrow=False,
                        font=dict(family=FONT, size=29, color="#111")))
for grp, cx in (("Learned faces", 293), ("Novel faces", 836.5)):
    annotations.append(dict(text=grp, x=cx / FIG_W, y=1 - 53 / FIG_H, xref="paper", yref="paper",
                            xanchor="center", yanchor="middle", showarrow=False,
                            font=dict(family=FONT, size=24, color="#111")))

fig.update_layout(
    width=FIG_W, height=FIG_H,
    margin=dict(l=0, r=0, t=0, b=0, pad=0, autoexpand=False),
    paper_bgcolor="white", plot_bgcolor="rgba(0,0,0,0)",
    font=dict(family=FONT, color="#111"),
    annotations=annotations,
    legend=dict(x=456 / FIG_W, y=1 - 707 / FIG_H, xanchor="left", yanchor="top",
                bgcolor="rgba(0,0,0,0)", font=dict(family=FONT, size=17),
                itemwidth=55, tracegroupgap=3, itemclick=False, itemdoubleclick=False),
    **layout_axes)

fig.write_html("out.html")
